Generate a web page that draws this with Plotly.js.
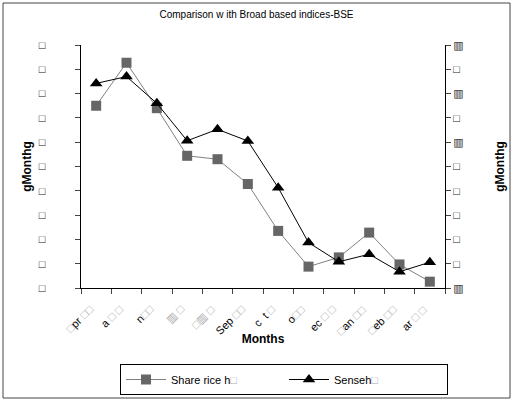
<!DOCTYPE html>
<html>
<head>
<meta charset="utf-8">
<script src="https://cdn.plot.ly/plotly-3.0.1.min.js"></script>
<style>
html,body{margin:0;padding:0;background:#fff;}
#chart{width:513px;height:401px;}
</style>
</head>
<body>
<div id="chart"></div>
<script>
var B = '\u25A1';
var BW = '\u25A5';
var T = '<span style="color:#aaaaaa">\u25A1</span>';
var TW = '<span style="color:#aaaaaa">\u25A5</span>';
var PAD = '\u00A0\u00A0\u00A0\u00A0\u00A0\u00A0\u00A0\u00A0\u00A0';

var months = ['Apr','May','Jun','Jul','Aug','Sep','Oct','Nov','Dec','Jan','Feb','Mar'];
var monthLabels = [
  T + 'pr ' + T + T,
  'a ' + T + ' ' + T,
  'n' + T + T,
  TW + ' ' + T,
  T + TW + ' ' + T,
  'Sep ' + T + T,
  'c  t ' + T,
  'o' + T + T,
  'ec ' + T + ' ' + T,
  T + 'an ' + T + T,
  T + 'eb ' + T + T,
  'ar ' + T + ' ' + T
];
var sharePrice = [7.50, 9.27, 7.40, 5.44, 5.30, 4.28, 2.35, 0.88, 1.26, 2.28, 0.97, 0.26];
var sensex     = [8.42, 8.70, 7.60, 6.06, 6.53, 6.05, 4.13, 1.87, 1.08, 1.39, 0.67, 1.06];

var yTickVals = [0,1,2,3,4,5,6,7,8,9,10];
var leftTickText = [B,B,B,B,B,B,B,B,B,B,B].map(function(s){ return s + PAD; });
var rightTickText = [BW,B,B,B,B,B,BW,B,BW,B,BW];

var FONT = 'Liberation Sans, DejaVu Sans, sans-serif';

var traces = [
  {
    x: months, y: sharePrice, type: 'scatter', mode: 'lines+markers',
    name: 'Share rice h' + T,
    line: {color: '#808080', width: 1},
    marker: {symbol: 'square', size: 10, color: '#666666'}
  },
  {
    x: months, y: sensex, type: 'scatter', mode: 'lines+markers',
    name: 'Senseh' + T, yaxis: 'y2',
    line: {color: '#000000', width: 1},
    marker: {symbol: 'triangle-up', size: 11, color: '#000000'}
  }
];

var monthAnnotations = months.map(function(m, i) {
  return {
    x: m, y: 0, xref: 'x', yref: 'paper',
    text: monthLabels[i], showarrow: false, textangle: -45,
    xanchor: 'right', yanchor: 'top', xshift: 2, yshift: -12,
    font: {size: 11, family: FONT, color: '#000'}
  };
});

var layout = {
  width: 513, height: 401,
  paper_bgcolor: '#ffffff', plot_bgcolor: '#ffffff',
  font: {family: FONT, size: 11, color: '#000'},
  margin: {l: 81, r: 68, t: 45, b: 113, autoexpand: false},
  showlegend: true,
  title: {text: 'Comparison w ith Broad based indices-BSE', font: {size: 10, family: FONT}, x: 0.5, xanchor: 'center', y: 0.965, yanchor: 'middle'},
  xaxis: {
    type: 'category', categoryarray: months,
    tickson: 'boundaries', ticks: 'outside', ticklen: 5, showticklabels: false,
    showline: true, linecolor: '#000', linewidth: 1, showgrid: false, zeroline: false,
    title: {text: '<b>Months</b>', font: {size: 12}, standoff: 46},
    range: [-0.5, 11.5], fixedrange: true
  },
  yaxis: {
    range: [0, 10], tickvals: yTickVals, ticktext: leftTickText,
    ticks: 'outside', ticklen: 5,
    showline: true, linecolor: '#000', linewidth: 1, showgrid: false, zeroline: false,
    tickfont: {size: 11, color: '#222', family: FONT},
    title: {text: '<b>gMonthg</b>', font: {size: 12}, standoff: 4}
  },
  yaxis2: {
    range: [0, 10], tickvals: yTickVals, ticktext: rightTickText,
    overlaying: 'y', side: 'right',
    ticks: 'outside', ticklen: 5,
    showline: true, linecolor: '#000', linewidth: 1, showgrid: false, zeroline: false,
    tickfont: {size: 11, color: '#222', family: FONT},
    title: {text: '<b>gMonthg</b>', font: {size: 12}, standoff: 32}
  },
  legend: {
    orientation: 'h', xref: 'container', yref: 'container',
    x: 120 / 513, xanchor: 'left', y: 1 - 364 / 401, yanchor: 'top',
    bordercolor: '#000', borderwidth: 1, bgcolor: '#fff',
    entrywidth: 108, entrywidthmode: 'pixels',
    font: {size: 11, family: FONT}, itemwidth: 40
  },
  annotations: monthAnnotations,
  shapes: [
    {type: 'rect', xref: 'paper', yref: 'paper',
     x0: (3 - 81) / 364, x1: (510 - 81) / 364,
     y0: (288 - 398) / 243, y1: (288 - 3) / 243,
     line: {color: '#444', width: 1}, fillcolor: 'rgba(0,0,0,0)', layer: 'below'}
  ]
};

Plotly.newPlot('chart', traces, layout, {displayModeBar: false, staticPlot: true});
</script>
</body>
</html>
